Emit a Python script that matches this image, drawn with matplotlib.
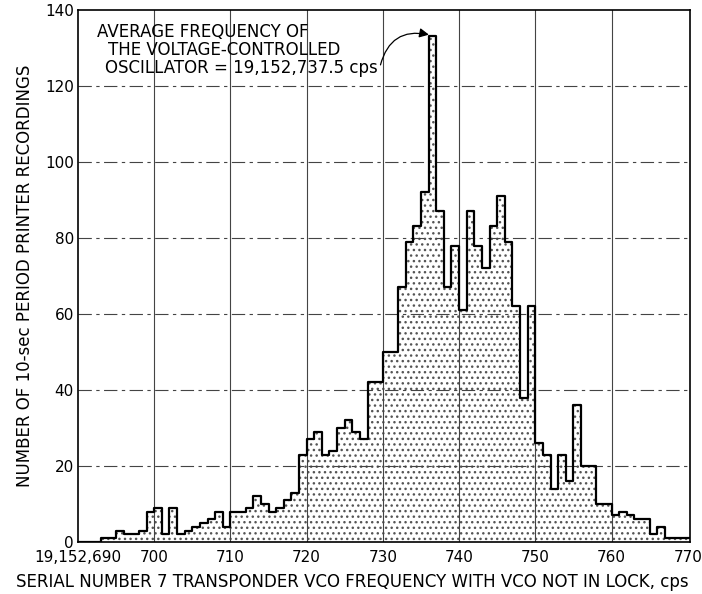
import numpy as np
import matplotlib
matplotlib.use("Agg")
import matplotlib.pyplot as plt

plt.rcParams['font.family'] = ['DejaVu Sans']
plt.rcParams['hatch.linewidth'] = 1.0

# bin left edges (cps above 19,152,000) and counts per 1-cps bin
freq = list(range(690, 771))
counts = [0, 0, 0, 1, 1, 3, 2, 2, 3, 8,
          9, 2, 9, 2, 3, 4, 5, 6, 8, 4,
          8, 8, 9, 12, 10, 8, 9, 11, 13, 23,
          27, 29, 23, 24, 30, 32, 29, 27, 42, 42,
          50, 50, 67, 79, 83, 92, 133, 87, 67, 78,
          61, 87, 78, 72, 83, 91, 79, 62, 38, 62,
          26, 23, 14, 23, 16, 36, 20, 20, 10, 10,
          7, 8, 7, 6, 6, 2, 4, 1, 1, 1,
          1]

xticks = [690, 700, 710, 720, 730, 740, 750, 760, 770]
xticklabels = ['19,152,690', '700', '710', '720', '730', '740', '750', '760', '770']
yticks = [0, 20, 40, 60, 80, 100, 120, 140]

peak_freq = 736.4
peak_count = 133

fig = plt.figure(figsize=(7.02, 5.94), dpi=100)
ax = fig.add_axes([0.111, 0.0875, 0.872, 0.896])

edges = np.array(freq + [freq[-1] + 1])
vals = np.array(counts + [counts[-1]])

# stippled fill under the histogram, then the outline on top
ax.fill_between(edges, 0, vals, step='post', facecolor='white',
                edgecolor='#555555', hatch='...', linewidth=0, zorder=1)
ax.step(edges, vals, where='post', color='black', lw=1.6, zorder=3)

for x in xticks[1:-1]:
    ax.axvline(x, color='#444444', lw=0.8, zorder=2)
for y in yticks[1:-1]:
    ax.axhline(y, color='#444444', lw=0.8, ls=(0, (12, 4, 3, 4)), zorder=2)

ax.set_xlim(690, 770.3)
ax.set_ylim(0, 140)
ax.set_xticks(xticks)
ax.set_xticklabels(xticklabels)
ax.set_yticks(yticks)
ax.tick_params(axis='x', length=0, labelsize=11, pad=6)
ax.tick_params(axis='y', length=0, labelsize=11, pad=3)
for s in ax.spines.values():
    s.set_linewidth(1.2)

ax.set_xlabel('SERIAL NUMBER 7 TRANSPONDER VCO FREQUENCY WITH VCO NOT IN LOCK, cps',
              fontsize=12)
ax.xaxis.set_label_coords(0.448, -0.058)
ax.set_ylabel('NUMBER OF 10-sec PERIOD PRINTER RECORDINGS', fontsize=12)
ax.yaxis.set_label_coords(-0.072, 0.5)

ax.text(692.5, 134.2, 'AVERAGE FREQUENCY OF', fontsize=12, va='center')
ax.text(694, 129.3, 'THE VOLTAGE-CONTROLLED', fontsize=12, va='center')
ax.text(693.5, 124.6, 'OSCILLATOR = 19,152,737.5 cps', fontsize=12, va='center')

ax.annotate('', xy=(peak_freq, peak_count + 0.3), xytext=(729.6, 124.8),
            arrowprops=dict(arrowstyle='-|>', color='black', lw=0.9,
                            connectionstyle='arc3,rad=-0.5', mutation_scale=14))

fig.savefig('out.png', dpi=100)
